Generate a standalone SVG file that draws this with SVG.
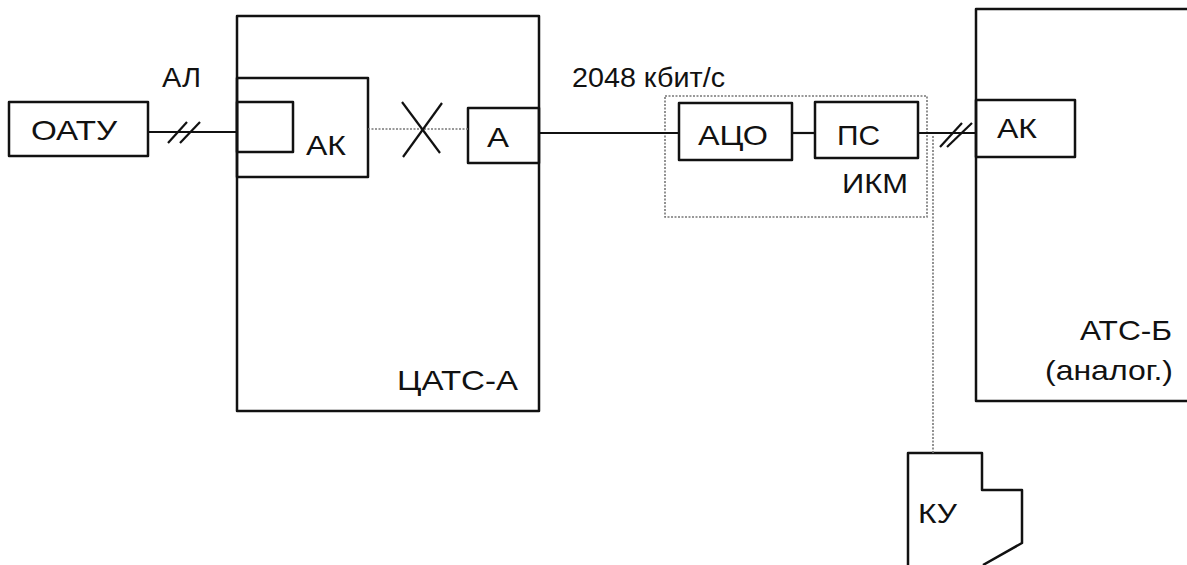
<svg xmlns="http://www.w3.org/2000/svg" width="1187" height="565" viewBox="0 0 1187 565">
<style>
.b{fill:none;stroke:#111;stroke-width:2.5;stroke-linejoin:round}
.l{fill:none;stroke:#111;stroke-width:2.2}
.d{fill:none;stroke:#777;stroke-width:1.6;stroke-dasharray:2 1.5}
.t{font-family:"Liberation Sans",Arial,sans-serif;font-size:28.5px;fill:#111}
</style>
<rect width="1187" height="565" fill="#fff"/>
<g id="catsa">
<rect class="b" x="237" y="16" width="302" height="395"/>
<text class="t" x="397" y="390" textLength="121" lengthAdjust="spacingAndGlyphs">ЦАТС-А</text>
</g>
<g id="ak1">
<rect class="b" x="237" y="78" width="131" height="99"/>
<rect class="b" x="237" y="102" width="56" height="50"/>
<text class="t" x="306" y="155" textLength="40" lengthAdjust="spacingAndGlyphs">АК</text>
</g>
<g id="oatu">
<rect class="b" x="9" y="102" width="139" height="54"/>
<text class="t" x="31" y="140" textLength="86" lengthAdjust="spacingAndGlyphs">ОАТУ</text>
</g>
<g id="a">
<rect class="b" x="468" y="108" width="71" height="55"/>
<text class="t" x="487" y="147" textLength="22" lengthAdjust="spacingAndGlyphs">А</text>
</g>
<g id="ikm">
<rect class="d" x="665" y="96" width="262" height="121"/>
<text class="t" x="842" y="193" textLength="66" lengthAdjust="spacingAndGlyphs">ИКМ</text>
</g>
<g id="aco">
<rect class="b" x="679" y="103" width="113" height="57"/>
<text class="t" x="698" y="145" textLength="70" lengthAdjust="spacingAndGlyphs">АЦО</text>
</g>
<g id="ps">
<rect class="b" x="815" y="102" width="103" height="56"/>
<text class="t" x="837" y="145" textLength="43" lengthAdjust="spacingAndGlyphs">ПС</text>
</g>
<g id="atsb">
<rect class="b" x="976" y="9" width="220" height="392"/>
<text class="t" x="1080" y="340" textLength="92" lengthAdjust="spacingAndGlyphs">АТС-Б</text>
<text class="t" x="1045" y="380" textLength="128" lengthAdjust="spacingAndGlyphs">(аналог.)</text>
</g>
<g id="ak2">
<rect class="b" x="976" y="100" width="99" height="57"/>
<text class="t" x="997" y="138" textLength="40" lengthAdjust="spacingAndGlyphs">АК</text>
</g>
<g id="ku">
<path class="b" d="M908,565 V453 H982 V490 H1022 V543 L983,565"/>
<text class="t" x="918" y="523" textLength="39" lengthAdjust="spacingAndGlyphs">КУ</text>
</g>
<g id="connectors">
<line class="l" x1="148" y1="132" x2="237" y2="132"/>
<line class="l" x1="168" y1="143" x2="187" y2="122"/>
<line class="l" x1="180" y1="143" x2="200" y2="122"/>
<text class="t" x="162" y="87" textLength="39" lengthAdjust="spacingAndGlyphs">АЛ</text>
<line class="d" x1="368" y1="129" x2="468" y2="129"/>
<line class="l" x1="402" y1="102" x2="440" y2="153"/>
<line class="l" x1="442" y1="103" x2="403" y2="157"/>
<line class="l" x1="539" y1="133" x2="679" y2="133"/>
<text class="t" x="572" y="87" textLength="153" lengthAdjust="spacingAndGlyphs">2048 кбит/с</text>
<line class="l" x1="792" y1="133" x2="815" y2="133"/>
<line class="l" x1="918" y1="133" x2="976" y2="133"/>
<line class="l" x1="940" y1="147" x2="962" y2="123"/>
<line class="l" x1="947" y1="147" x2="972" y2="123"/>
<line class="d" x1="933" y1="136" x2="933" y2="453"/>
</g>
</svg>
